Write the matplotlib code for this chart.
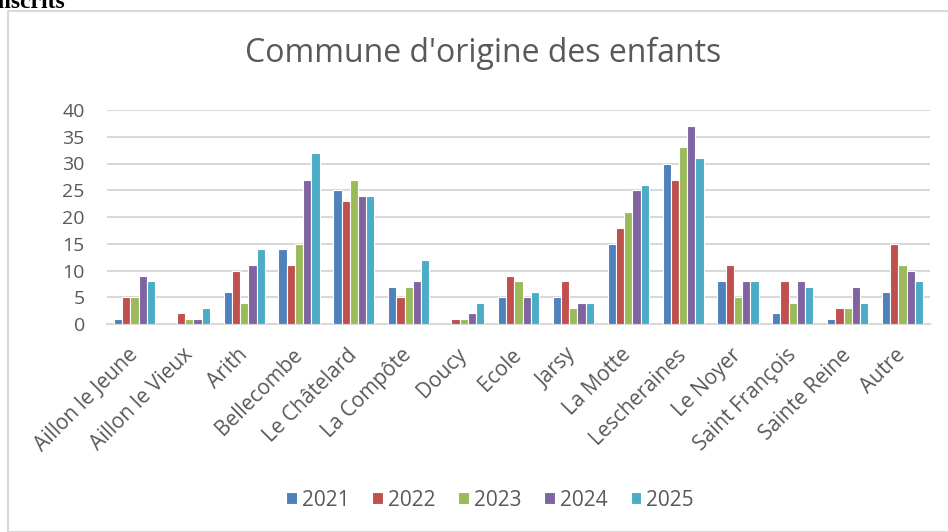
import matplotlib.pyplot as plt
import numpy as np
from matplotlib.patches import Rectangle

plt.rcParams['font.family'] = ['Open Sans', 'DejaVu Sans']

communes = ["Aillon le Jeune", "Aillon le Vieux", "Arith", "Bellecombe", "Le Châtelard",
            "La Compôte", "Doucy", "Ecole", "Jarsy", "La Motte", "Lescheraines",
            "Le Noyer", "Saint François", "Sainte Reine", "Autre"]
years = ["2021", "2022", "2023", "2024", "2025"]
v2021 = [1, 0, 6, 14, 25, 7, 0, 5, 5, 15, 30, 8, 2, 1, 6]
v2022 = [5, 2, 10, 11, 23, 5, 1, 9, 8, 18, 27, 11, 8, 3, 15]
v2023 = [5, 1, 4, 15, 27, 7, 1, 8, 3, 21, 33, 5, 4, 3, 11]
v2024 = [9, 1, 11, 27, 24, 8, 2, 5, 4, 25, 37, 8, 8, 7, 10]
v2025 = [8, 3, 14, 32, 24, 12, 4, 6, 4, 26, 31, 8, 7, 4, 8]
colors = ['#4F81BD', '#C0504D', '#9BBB59', '#8064A2', '#4BACC6']

fig = plt.figure(figsize=(9.48, 5.32), dpi=100)
ax = fig.add_axes([107/948, 1-324/532, 823/948, 214/532])

x = np.arange(len(communes))
w = 0.15
for i, (vals, yr) in enumerate(zip([v2021, v2022, v2023, v2024, v2025], years)):
    ax.bar(x + (i-2)*w, vals, w, color=colors[i], edgecolor='white', linewidth=0.8,
           label=yr, zorder=3)

ax.set_xlim(-0.5, len(communes)-0.5)
ax.set_ylim(0, 40)
ax.set_yticks(range(0, 41, 5))
ax.yaxis.grid(True, color='#D9D9D9', linewidth=1.5, zorder=0)
for s in ['top', 'right', 'left']:
    ax.spines[s].set_visible(False)
ax.spines['bottom'].set_color('#D9D9D9')
ax.spines['bottom'].set_linewidth(1.5)
ax.tick_params(axis='both', length=0, labelcolor='#595959')
ax.tick_params(axis='y', pad=16, labelsize=14)
ax.tick_params(axis='x', pad=20, labelsize=15)
ax.set_xticks(x)
ax.set_xticklabels(communes, rotation=45, ha='right', va='center', rotation_mode='anchor')

fig.text(483/948, 1-53/532, "Commune d'origine des enfants", ha='center', va='center',
         fontsize=23, color='#595959')

fig.legend(loc='center', bbox_to_anchor=(490/948, 1-500/532), ncol=5, frameon=False,
           fontsize=15, labelcolor='#595959', handlelength=0.5, handleheight=0.5,
           columnspacing=1.1, handletextpad=0.25)

fig.patches.append(Rectangle((8/948, 0), 1, 1-11/532, transform=fig.transFigure,
                             fill=False, edgecolor='#D9D9D9', linewidth=1.5))
fig.text(65/948, 1-8/532, "inscrits", ha='right', va='baseline', fontsize=17,
         fontweight='bold', family='Liberation Serif')

fig.savefig("out.png", dpi=100)
